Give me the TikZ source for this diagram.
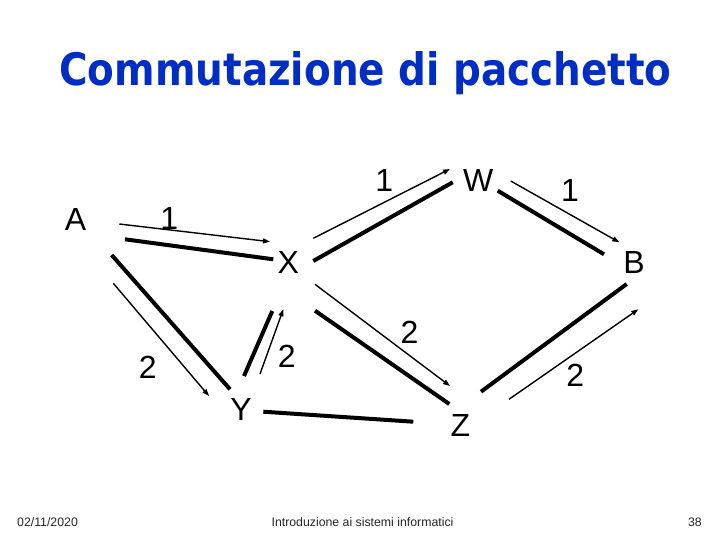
\documentclass[tikz,border=0pt]{standalone}
\usepackage{fontspec}
\setmainfont{Liberation Sans}
\newfontfamily\titlefont{DejaVu Sans}
\usetikzlibrary{arrows.meta}
\definecolor{titleblue}{RGB}{0,45,195}
\tikzset{
  lbl/.style={inner sep=0pt, font=\fontsize{32}{38}\selectfont},
  thickln/.style={line width=4pt},
  thinarr/.style={line width=1.4pt, -{Triangle[length=7pt,width=5pt]}},
  foot/.style={inner sep=0pt, font=\fontsize{12.3}{14}\selectfont, text=black!85}
}
\begin{document}
\begin{tikzpicture}[x=1pt,y=-1pt]
\useasboundingbox (0,0) rectangle (720,540);
\fill[white] (0,0) rectangle (720,540);
% title
\node[inner sep=0pt, anchor=base, text=titleblue] (title) at (365.5,85.5)
  {\resizebox{612pt}{34pt}{\titlefont\bfseries Commutazione di pacchetto}};
% nodes
\node[lbl] (A) at (75.5,219.5) {A};
\node[lbl] (X) at (288.3,262.7) {X};
\node[lbl] (W) at (478.3,180.5) {W};
\node[lbl] (B) at (634,262.5) {B};
\node[lbl] (Y) at (241,409) {Y};
\node[lbl] (Z) at (460.3,425.3) {Z};
% weights
\node[lbl] (w1) at (169.3,218.8) {1};
\node[lbl] (w2) at (384.3,180.8) {1};
\node[lbl] (w3) at (570,190.8) {1};
\node[lbl] (w4) at (147.7,367.5) {2};
\node[lbl] (w5) at (286.7,356) {2};
\node[lbl] (w6) at (409.5,332.8) {2};
\node[lbl] (w7) at (575.3,375) {2};
% link endpoints (thick)
\coordinate (ax1) at (125,239.3);   \coordinate (ax2) at (273.3,259.3);
\coordinate (xw1) at (313.3,261);   \coordinate (xw2) at (452.7,182.3);
\coordinate (wb1) at (497.7,190.7); \coordinate (wb2) at (604,254.3);
\coordinate (ay1) at (111.7,255);   \coordinate (ay2) at (230,389.3);
\coordinate (yx1) at (244,376);     \coordinate (yx2) at (272.3,311);
\coordinate (xz1) at (315,310.7);   \coordinate (xz2) at (449.3,404);
\coordinate (yz1) at (263.3,411.7); \coordinate (yz2) at (413.3,421.7);
\coordinate (zb1) at (481,391.7);   \coordinate (zb2) at (626.7,284);
% arrow endpoints (thin)
\coordinate (tax1) at (119.3,224);   \coordinate (tax2) at (270,241.7);
\coordinate (txw1) at (313.3,238.3); \coordinate (txw2) at (450,169);
\coordinate (twb1) at (510.7,181);   \coordinate (twb2) at (619.3,242.3);
\coordinate (tay1) at (113.3,283.3); \coordinate (tay2) at (209,396);
\coordinate (tyx1) at (260,374);     \coordinate (tyx2) at (283.3,309.3);
\coordinate (txz1) at (315,284.3);   \coordinate (txz2) at (450,386);
\coordinate (tzb1) at (509,399.3);   \coordinate (tzb2) at (638.3,309.3);
% thick links
\draw[thickln] (ax1) -- (ax2);
\draw[thickln] (xw1) -- (xw2);
\draw[thickln] (wb1) -- (wb2);
\draw[thickln] (ay1) -- (ay2);
\draw[thickln] (yx1) -- (yx2);
\draw[thickln] (xz1) -- (xz2);
\draw[thickln] (yz1) -- (yz2);
\draw[thickln] (zb1) -- (zb2);
% thin arrows
\draw[thinarr] (tax1) -- (tax2);
\draw[thinarr] (txw1) -- (txw2);
\draw[thinarr] (twb1) -- (twb2);
\draw[thinarr] (tay1) -- (tay2);
\draw[thinarr] (tyx1) -- (tyx2);
\draw[thinarr] (txz1) -- (txz2);
\draw[thinarr] (tzb1) -- (tzb2);
% footer
\node[foot, anchor=west] (date) at (17,522) {02/11/2020};
\node[foot] (course) at (362.5,522) {Introduzione ai sistemi informatici};
\node[foot, anchor=east] (page) at (702,522) {38};
\end{tikzpicture}
\end{document}
